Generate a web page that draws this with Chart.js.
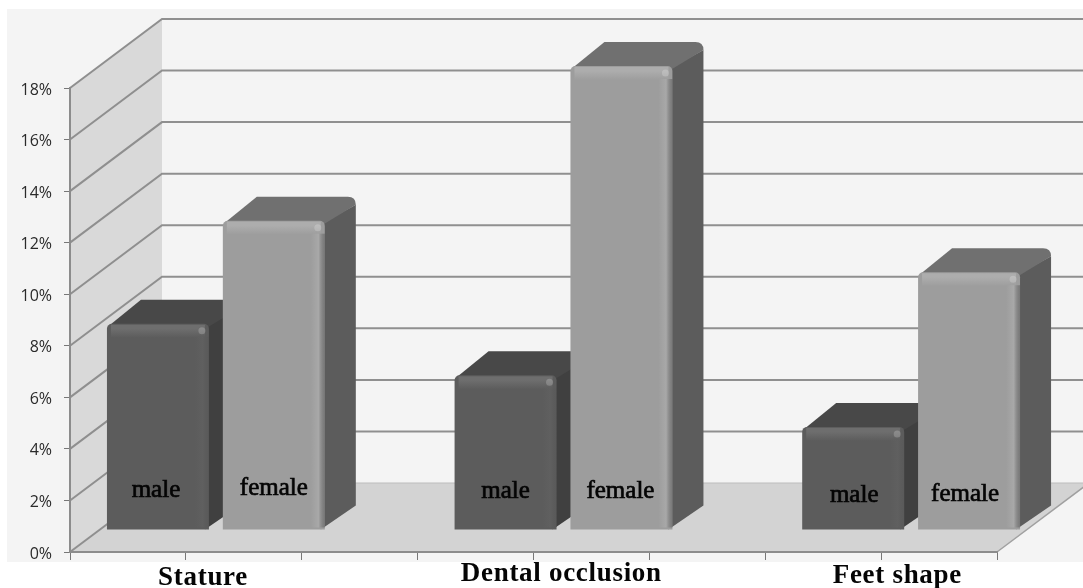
<!DOCTYPE html>
<html>
<head>
<meta charset="utf-8">
<script src="https://cdn.jsdelivr.net/npm/chart.js@4"></script>
<style>
  html, body { margin: 0; padding: 0; background: #fff; }
  canvas { display: block; filter: blur(0.6px); }
</style>
</head>
<body>
<canvas id="traitsChart" width="1083" height="588"></canvas>
<script>
// one slot per x-axis tick interval; the third slot of each group is empty
const slots = ['s1', 's2', 's3', 'd1', 'd2', 'd3', 'f1', 'f2'];
const maleValues = [8, null, null, 6, null, null, 4, null];
const femaleValues = [null, 12, null, null, 18, null, null, 10];
const groupNames = ['Stature', 'Dental occlusion', 'Feet shape'];
const seriesNames = ['male', 'female'];

// 3D look of the original
const WALL_DX = 92, WALL_DY = -69;
const BAR_DX = 30, BAR_DY = -22;
const DEPTH_DX = 31, DEPTH_DY = -24;
const groupLabelSlot = [0.648, 3.74, 6.64];
const groupBaseline = [585, 581, 583];
const nudge = { 0: [-2, 0], 1: [0, -2], 3: [0, 1], 4: [-1, 1], 6: [1, 5], 7: [-4, 4] };

const barColors = {
  male: { front: '#5c5c5c', side: '#404040', top: '#484848', light: '#6e6e6e' },
  female: { front: '#9d9d9d', side: '#5c5c5c', top: '#707070', light: '#adadad' }
};

function poly(ctx, pts, fill) {
  ctx.beginPath();
  pts.forEach((p, i) => i ? ctx.lineTo(p[0], p[1]) : ctx.moveTo(p[0], p[1]));
  ctx.closePath();
  ctx.fillStyle = fill;
  ctx.fill();
}

function eachBar(meta, values, fn) {
  meta.data.forEach((bar, i) => {
    if (values[i] !== null) fn(bar, i);
  });
}

const scenePlugin = {
  id: 'scene',
  beforeDraw(chart) {
    const { ctx, chartArea: a, scales: { y } } = chart;
    const W = chart.width;
    ctx.save();
    ctx.fillStyle = '#f4f4f4';
    ctx.fillRect(7, 9, W - 7, 553);
    // side wall and floor
    poly(ctx, [[a.left, a.top], [a.left + WALL_DX, a.top + WALL_DY],
      [a.left + WALL_DX, a.bottom + WALL_DY], [a.left, a.bottom]], '#d9d9d9');
    poly(ctx, [[a.left, a.bottom], [a.right, a.bottom],
      [a.right + WALL_DX, a.bottom + WALL_DY], [a.left + WALL_DX, a.bottom + WALL_DY]], '#d3d3d3');
    // gridlines run over the side wall and along the back
    ctx.strokeStyle = '#8f8f8f';
    ctx.lineWidth = 2;
    y.ticks.forEach(t => {
      const py = y.getPixelForValue(t.value);
      ctx.beginPath();
      ctx.moveTo(a.left, py);
      ctx.lineTo(a.left + WALL_DX, py + WALL_DY);
      if (t.value > 0) ctx.lineTo(W, py + WALL_DY);
      ctx.stroke();
    });
    ctx.strokeStyle = '#bdbdbd';
    ctx.lineWidth = 1;
    ctx.beginPath();
    ctx.moveTo(a.left + WALL_DX, a.bottom + WALL_DY);
    ctx.lineTo(W, a.bottom + WALL_DY);
    ctx.stroke();
    ctx.strokeStyle = '#a0a0a0';
    ctx.lineWidth = 1.5;
    ctx.beginPath();
    ctx.moveTo(a.right, a.bottom);
    ctx.lineTo(a.right + WALL_DX, a.bottom + WALL_DY);
    ctx.stroke();
    ctx.restore();
  },
  beforeDatasetDraw(chart, args) {
    const { ctx } = chart;
    const c = barColors[seriesNames[args.index]];
    ctx.save();
    ctx.translate(BAR_DX, BAR_DY);
    eachBar(args.meta, chart.data.datasets[args.index].data, bar => {
      const l = bar.x - bar.width / 2, r = bar.x + bar.width / 2;
      poly(ctx, [[r - 2, bar.y + 2], [r + DEPTH_DX, bar.y + DEPTH_DY + 8],
        [r + DEPTH_DX, bar.base + DEPTH_DY], [r - 4, bar.base]], c.side);
      ctx.beginPath();
      ctx.moveTo(l + 2, bar.y + 2);
      ctx.lineTo(l + DEPTH_DX + 3, bar.y + DEPTH_DY);
      ctx.lineTo(r + DEPTH_DX - 8, bar.y + DEPTH_DY);
      ctx.quadraticCurveTo(r + DEPTH_DX, bar.y + DEPTH_DY, r + DEPTH_DX, bar.y + DEPTH_DY + 8);
      ctx.lineTo(r - 2, bar.y + 4);
      ctx.closePath();
      ctx.fillStyle = c.top;
      ctx.fill();
    });
  },
  afterDatasetDraw(chart, args) {
    const { ctx } = chart;
    const c = barColors[seriesNames[args.index]];
    eachBar(args.meta, chart.data.datasets[args.index].data, bar => {
      const l = bar.x - bar.width / 2, r = bar.x + bar.width / 2;
      // bevel on the front face
      let g = ctx.createLinearGradient(0, bar.y, 0, bar.y + 14);
      g.addColorStop(0, c.light);
      g.addColorStop(0.35, c.light);
      g.addColorStop(1, c.front);
      ctx.fillStyle = g;
      ctx.fillRect(l + 4, bar.y + 1, bar.width - 8, 13);
      g = ctx.createLinearGradient(r - 14, 0, r, 0);
      g.addColorStop(0, c.front);
      g.addColorStop(0.55, c.light);
      g.addColorStop(1, 'rgba(70,70,70,0.6)');
      ctx.fillStyle = g;
      ctx.globalAlpha = args.index ? 0.7 : 0.2;
      ctx.fillRect(r - 14, bar.y + 13, 14, bar.base - bar.y - 15);
      ctx.globalAlpha = 1;
      ctx.fillStyle = 'rgba(255,255,255,0.2)';
      ctx.beginPath();
      ctx.arc(r - 7, bar.y + 7, 3.5, 0, Math.PI * 2);
      ctx.fill();
    });
    ctx.restore();
  },
  afterDraw(chart) {
    const { ctx, scales: { x } } = chart;
    ctx.save();
    ctx.fillStyle = '#050505';
    ctx.strokeStyle = '#050505';
    ctx.lineWidth = 0.7;
    ctx.textAlign = 'center';
    ctx.textBaseline = 'alphabetic';
    // labels painted on the bars
    ctx.font = '25px "Liberation Serif"';
    chart.data.datasets.forEach((ds, d) => {
      eachBar(chart.getDatasetMeta(d), ds.data, (bar, i) => {
        const n = nudge[i] || [0, 0];
        const tx = bar.x + BAR_DX + n[0], ty = bar.base + BAR_DY - 33 + n[1];
        ctx.fillText(seriesNames[d], tx, ty);
        ctx.strokeText(seriesNames[d], tx, ty);
      });
    });
    // group names under the axis
    ctx.font = 'bold 27px "Liberation Serif"';
    ctx.letterSpacing = '0.7px';
    groupNames.forEach((name, i) => {
      ctx.fillText(name, x.getPixelForValue(groupLabelSlot[i]), groupBaseline[i]);
    });
    ctx.restore();
  }
};

new Chart(document.getElementById('traitsChart'), {
  type: 'bar',
  data: {
    labels: slots,
    datasets: [
      { label: seriesNames[0], data: maleValues, order: 2, backgroundColor: barColors.male.front,
        borderRadius: 5, grouped: false, clip: false },
      { label: seriesNames[1], data: femaleValues, order: 1, backgroundColor: barColors.female.front,
        borderRadius: 5, grouped: false, clip: false }
    ]
  },
  options: {
    responsive: false,
    animation: false,
    layout: { padding: { top: 88, right: 86, left: 0, bottom: 0 } },
    datasets: { bar: { barPercentage: 1, categoryPercentage: 0.88 } },
    plugins: { legend: { display: false }, tooltip: { enabled: false } },
    scales: {
      x: {
        afterFit: s => { s.height = 36; },
        ticks: { display: false },
        border: { color: '#8c8c8c', width: 2 },
        grid: { drawOnChartArea: false, tickLength: 8, tickColor: '#777', tickWidth: 1 }
      },
      y: {
        min: 0,
        max: 18,
        afterFit: s => { s.width = 70; },
        ticks: {
          stepSize: 2,
          padding: 12,
          labelOffset: 2,
          color: '#2a2a2a',
          font: { family: '"Open Sans"', size: 16 },
          callback: v => v + '%'
        },
        border: { color: '#8c8c8c', width: 2 },
        grid: { drawOnChartArea: false, tickLength: 6, tickColor: '#777', tickWidth: 1 }
      }
    }
  },
  plugins: [scenePlugin]
});
</script>
</body>
</html>
